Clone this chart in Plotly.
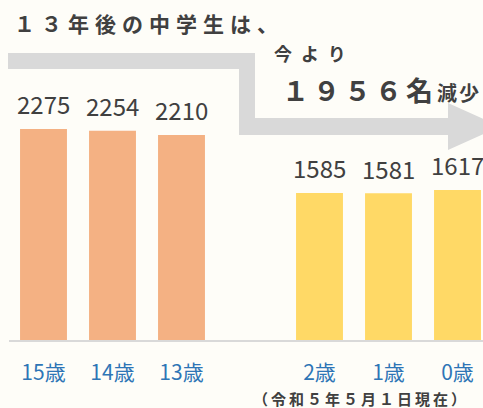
import plotly.graph_objects as go

# ---- data ----
categories = ["15歳", "14歳", "13歳", "2歳", "1歳", "0歳"]
positions = [0, 1, 2, 4, 5, 6]
values = [2275, 2254, 2210, 1585, 1581, 1617]
bar_colors = ["#F4B183", "#F4B183", "#F4B183", "#FFD966", "#FFD966", "#FFD966"]
title_text = "１３年後の中学生は、"
sub_text = "今より"
diff_text = "１９５６名"
diff_suffix = "減少"
note_text = "（令和５年５月１日現在）"

W, H = 483, 408
ML, MR, MT, MB = 9, 0, 108, 68
PW, PH = W - ML - MR, H - MT - MB

def px(x):
    return (x - ML) / PW

def py(y):
    return (H - MB - y) / PH

fig = go.Figure()
fig.add_trace(go.Bar(
    x=positions, y=values, marker_color=bar_colors, width=0.68,
    marker_line_width=0, hoverinfo="skip",
))

# arrow (decorative)
pts = [(8, 53), (255, 53), (255, 118), (448, 118), (448, 103), (500, 126.5),
       (448, 150), (448, 135), (239, 135), (239, 69), (8, 69)]
path = "M " + " L ".join(f"{px(a):.4f},{py(b):.4f}" for a, b in pts) + " Z"
fig.add_shape(type="path", path=path, xref="paper", yref="paper",
              fillcolor="#D9D9D9", line_width=0, layer="below")

font_main = "Noto Sans CJK JP"
dark = "#404040"

def spaced(t, sp):
    return f"<span style='letter-spacing:{sp}px'>{t}</span>"

# value labels
for p, v in zip(positions, values):
    fig.add_annotation(x=p, y=v, text=str(v), showarrow=False, yshift=25,
                       font=dict(family=font_main, size=24, color=dark))

ann = []
ann.append(dict(x=px(12), y=py(23), text="<b>" + spaced(title_text, 6) + "</b>",
                xanchor="left", yanchor="middle",
                font=dict(family=font_main, size=21, color=dark)))
ann.append(dict(x=px(272), y=py(53), text="<b>" + spaced(sub_text, 9) + "</b>",
                xanchor="left", yanchor="middle",
                font=dict(family=font_main, size=18, color=dark)))
ann.append(dict(x=px(280), y=py(90),
                text="<b>" + spaced(diff_text, 4) + "<span style='font-size:20px'>"
                     + spaced(diff_suffix, 2) + "</span></b>",
                xanchor="left", yanchor="middle",
                font=dict(family=font_main, size=27, color=dark)))
ann.append(dict(x=px(251), y=py(398), text="<b>" + spaced(note_text, 3) + "</b>",
                xanchor="left", yanchor="middle",
                font=dict(family=font_main, size=15, color=dark)))
for a in ann:
    fig.add_annotation(xref="paper", yref="paper", showarrow=False, **a)

fig.update_layout(
    width=W, height=H,
    margin=dict(l=ML, r=MR, t=MT, b=MB),
    paper_bgcolor="#FEFDF8", plot_bgcolor="#FEFDF8",
    showlegend=False,
    xaxis=dict(range=[-0.5, -0.5 + PW / 69], tickvals=positions, ticktext=categories,
               showgrid=False, zeroline=False, showline=True, linecolor="#D9D9D9",
               linewidth=2, ticks="", ticklabelstandoff=13,
               tickfont=dict(family=font_main, size=21, color="#2E75B6")),
    yaxis=dict(range=[0, 2500], visible=False, showgrid=False, zeroline=False),
    bargap=0.3,
)

fig.write_html("out.html", config={"displayModeBar": False},
               post_script="document.body.style.margin='0';document.body.style.background='#FEFDF8';")
